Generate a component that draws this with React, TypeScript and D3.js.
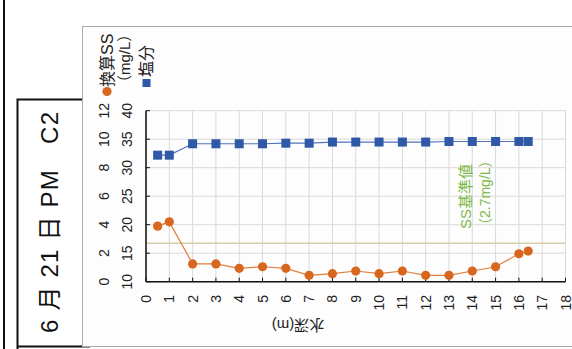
import React from "react";
import * as d3 from "d3";

const depthsSalt = [0.5, 1, 2, 3, 4, 5, 6, 7, 8, 9, 10, 11, 12, 13, 14, 15, 16, 16.4];
const saltValues = [32.2, 32.2, 34.2, 34.2, 34.2, 34.2, 34.3, 34.3, 34.5, 34.5, 34.5, 34.5, 34.5, 34.6, 34.6, 34.6, 34.6, 34.6];
const depthsSS = [0.5, 1, 2, 3, 4, 5, 6, 7, 8, 9, 10, 11, 12, 13, 14, 15, 16, 16.4];
const ssValues = [3.9, 4.2, 1.25, 1.25, 0.94, 1.05, 0.94, 0.45, 0.56, 0.75, 0.56, 0.75, 0.45, 0.45, 0.75, 1.05, 1.96, 2.15];
const xTicks = d3.range(0, 19);
const saltTicks = [10, 15, 20, 25, 30, 35, 40];
const ssTicks = [0, 2, 4, 6, 8, 10, 12];
const ssCriterion = 2.7;
const titleText = "6 月 21 日 PM　C2";
const xTitle = "水深(m)";
const legendSS = "換算SS";
const legendSSUnit = "（mg/L）";
const legendSalt = "塩分";
const critLabel1 = "SS基準値";
const critLabel2 = "（2.7mg/L）";

const FONT = "'Liberation Sans', 'Noto Sans CJK JP', sans-serif";

export default function App() {
  const x = d3.scaleLinear().domain([0, 18]).range([146, 565.5]);
  const ySalt = d3.scaleLinear().domain([10, 40]).range([281.7, 110.7]);
  const ySS = d3.scaleLinear().domain([0, 12]).range([281.7, 110.7]);

  const orange = "#D7661F";
  const orangeLine = "#E07E3A";
  const blue = "#2F58A6";
  const blueLine = "#5274BC";

  const saltPts = depthsSalt.map((d, i) => [x(d), ySalt(saltValues[i])] as [number, number]);
  const ssPts = depthsSS.map((d, i) => [x(d), ySS(ssValues[i])] as [number, number]);
  const line = d3.line();

  return (
    <svg width={572} height={349} style={{ position: "absolute", left: 0, top: 0, background: "#fff" }} fontFamily={FONT}>
      {/* left frame */}
      <line x1={4} y1={0} x2={4} y2={349} stroke="#111" strokeWidth={2} />
      <path d="M17.5,349 L17.5,99.5 L85,99.5" fill="none" stroke="#111" strokeWidth={2} />
      <line x1={17.5} y1={346.5} x2={90} y2={346.5} stroke="#111" strokeWidth={2} />
      <text
        transform={`translate(49,222.5) rotate(-90)`}
        textAnchor="middle"
        dominantBaseline="central"
        fontSize={24}
        textLength={221}
        lengthAdjust="spacing"
        fill="#111"
      >
        {titleText}
      </text>

      {/* chart panel */}
      <rect x={82.5} y={26.5} width={500} height={320} fill="#fdfdfd" stroke="#aaa" strokeWidth={1} />

      {/* grid */}
      {xTicks.map((t) => (
        <line key={"gx" + t} x1={x(t)} x2={x(t)} y1={ySalt(40)} y2={ySalt(10)} stroke="#d9d9d9" strokeWidth={1} />
      ))}
      {saltTicks.map((t) => (
        <line key={"gy" + t} x1={x(0)} x2={x(18)} y1={ySalt(t)} y2={ySalt(t)} stroke="#d9d9d9" strokeWidth={1} />
      ))}

      {/* criterion line */}
      <line x1={x(0)} x2={x(18)} y1={ySS(ssCriterion)} y2={ySS(ssCriterion)} stroke="#d6cfae" strokeWidth={1.5} />

      {/* axes */}
      <line x1={x(0)} x2={x(0)} y1={ySalt(40)} y2={ySalt(10)} stroke="#111" strokeWidth={1.5} />
      <line x1={x(0)} x2={x(18)} y1={ySalt(10)} y2={ySalt(10)} stroke="#111" strokeWidth={1.5} />
      {xTicks.map((t) => (
        <line key={"tx" + t} x1={x(t)} x2={x(t)} y1={ySalt(10)} y2={ySalt(10) - 4} stroke="#111" strokeWidth={1} />
      ))}
      {saltTicks.map((t) => (
        <line key={"ty" + t} x1={x(0)} x2={x(0) + 4} y1={ySalt(t)} y2={ySalt(t)} stroke="#111" strokeWidth={1} />
      ))}

      {/* tick labels */}
      {xTicks.map((t) => (
        <text
          key={"lx" + t}
          transform={`translate(${x(t)},295) rotate(-90)`}
          textAnchor="end"
          dominantBaseline="central"
          fontSize={14}
          fill="#222"
        >
          {t}
        </text>
      ))}
      {saltTicks.map((t) => (
        <text
          key={"ls" + t}
          transform={`translate(127,${ySalt(t)}) rotate(-90)`}
          textAnchor="middle"
          dominantBaseline="central"
          fontSize={14}
          fill="#222"
        >
          {t}
        </text>
      ))}
      {ssTicks.map((t) => (
        <text
          key={"lss" + t}
          transform={`translate(104,${ySS(t)}) rotate(-90)`}
          textAnchor="middle"
          dominantBaseline="central"
          fontSize={14}
          fill="#222"
        >
          {t}
        </text>
      ))}

      {/* x title (upside down) */}
      <text
        transform={`translate(298,325) rotate(180)`}
        textAnchor="middle"
        dominantBaseline="central"
        fontSize={15}
        fill="#222"
      >
        {xTitle}
      </text>

      {/* criterion label */}
      <text transform={`translate(465,229) rotate(-90)`} textAnchor="start" dominantBaseline="central" fontSize={15} fill="#7DB94A">
        {critLabel1}
      </text>
      <text transform={`translate(485,232) rotate(-90)`} textAnchor="start" dominantBaseline="central" fontSize={14} fill="#7DB94A">
        {critLabel2}
      </text>

      {/* series lines */}
      <path d={line(saltPts) || ""} fill="none" stroke={blueLine} strokeWidth={1.2} />
      <path d={line(ssPts) || ""} fill="none" stroke={orangeLine} strokeWidth={1.2} />
      {saltPts.map(([px, py], i) => (
        <rect key={"s" + i} x={px - 4.5} y={py - 4.5} width={9} height={9} fill={blue} />
      ))}
      {ssPts.map(([px, py], i) => (
        <circle key={"c" + i} cx={px} cy={py} r={4.6} fill={orange} />
      ))}

      {/* legend */}
      <circle cx={107} cy={91.5} r={4.6} fill={orange} />
      <text transform={`translate(107,87) rotate(-90)`} textAnchor="start" dominantBaseline="central" fontSize={16} fill="#222">
        {legendSS}
      </text>
      <text transform={`translate(124,90) rotate(-90)`} textAnchor="start" dominantBaseline="central" fontSize={15} fill="#222">
        {legendSSUnit}
      </text>
      <rect x={142.5} y={79} width={8} height={8} fill={blue} />
      <text transform={`translate(146,77) rotate(-90)`} textAnchor="start" dominantBaseline="central" fontSize={16} fill="#222">
        {legendSalt}
      </text>
    </svg>
  );
}
